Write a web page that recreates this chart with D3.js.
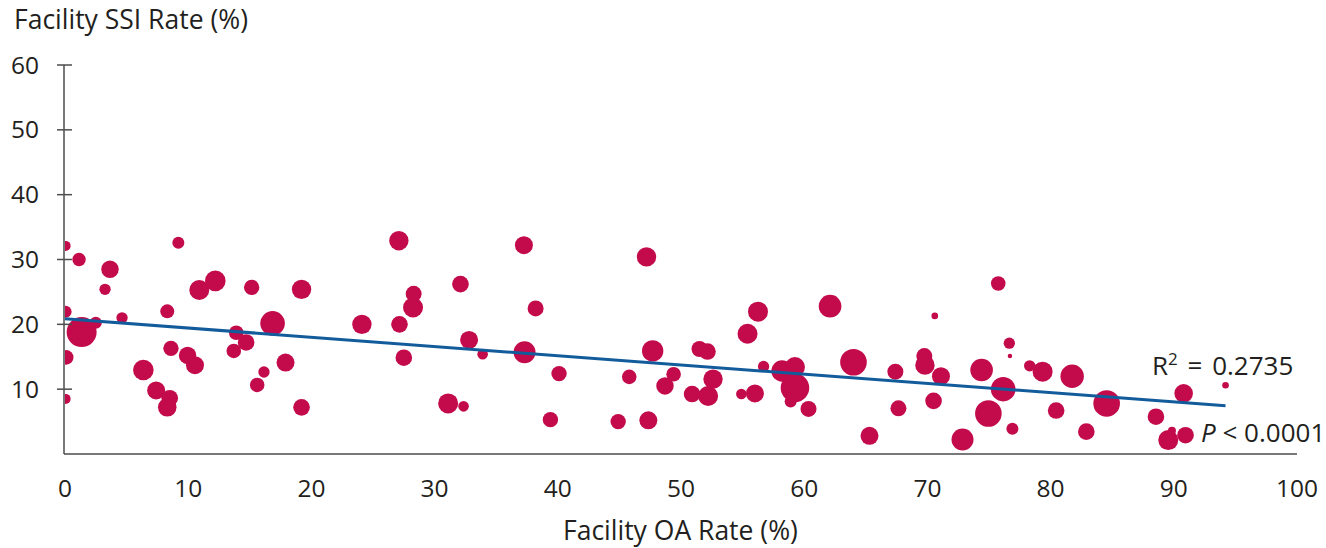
<!DOCTYPE html>
<html>
<head>
<meta charset="utf-8">
<script src="https://cdn.jsdelivr.net/npm/d3@7"></script>
<style>
  body { margin: 0; background: #fff; }
  text { font-family: "Open Sans", "Noto Sans", sans-serif; fill: #231f20; }
</style>
</head>
<body>
<div id="chart"></div>
<script>
// facility OA rate (%), SSI rate (%), facility volume (bubble size)
let oaRate = [0.05, 1.14, 3.65, 3.25, 0.05, 2.5, 1.35, 0.1, 0.05, 4.63,
  9.2, 8.3, 10.9, 12.2, 15.15, 19.2, 16.85, 13.9, 14.7, 13.7,
  8.6, 9.95, 10.55, 6.36, 7.4, 8.5, 8.3, 16.15, 15.6, 17.9,
  19.2, 27.1, 37.25, 47.2, 32.1, 28.3, 28.25, 38.2, 24.1, 27.15,
  32.8, 33.9, 37.3, 27.5, 40.1, 45.8, 47.7, 31.1, 32.35, 39.4,
  44.9, 47.35, 56.25, 62.1, 70.6, 55.4, 51.5, 52.15, 49.4, 48.7,
  52.6, 50.9, 52.2, 54.9, 56.0, 56.7, 58.2, 59.25, 59.25, 58.9,
  60.35, 64.0, 65.3, 67.4, 67.65, 69.75, 69.8, 71.1, 70.5, 72.85,
  74.4, 74.95, 75.75, 76.65, 76.7, 76.15, 76.9, 78.3, 79.35, 81.75,
  80.45, 82.9, 84.55, 88.55, 89.55, 90.95, 90.8, 94.2, 89.85];
let ssiRate = [32.1, 30.0, 28.5, 25.4, 21.95, 20.25, 18.8, 14.9, 8.5, 21.0,
  32.6, 22.0, 25.3, 26.7, 25.7, 25.4, 20.15, 18.7, 17.2, 15.9,
  16.3, 15.2, 13.7, 12.95, 9.8, 8.6, 7.2, 12.65, 10.65, 14.1,
  7.2, 32.9, 32.2, 30.4, 26.2, 24.7, 22.6, 22.45, 20.0, 20.0,
  17.6, 15.4, 15.7, 14.85, 12.4, 11.9, 15.9, 7.8, 7.35, 5.3,
  5.0, 5.2, 21.95, 22.8, 21.3, 18.55, 16.2, 15.8, 12.3, 10.5,
  11.55, 9.25, 8.95, 9.25, 9.35, 13.5, 12.8, 13.4, 10.2, 8.1,
  6.95, 14.15, 2.8, 12.7, 7.05, 15.1, 13.7, 12.0, 8.2, 2.25,
  12.95, 6.25, 26.3, 17.1, 15.1, 10.0, 3.9, 13.6, 12.7, 12.0,
  6.7, 3.45, 7.8, 5.75, 2.15, 2.9, 9.35, 10.6, 3.6];
let volume = [250, 450, 760, 320, 360, 360, 2250, 530, 250, 320,
  360, 490, 1000, 1060, 590, 940, 1510, 530, 690, 530,
  590, 760, 810, 1060, 810, 690, 860, 320, 530, 810,
  690, 940, 810, 940, 690, 640, 1000, 640, 940, 690,
  810, 280, 1210, 690, 590, 530, 1140, 1000, 280, 590,
  590, 810, 1000, 1280, 110, 1000, 640, 690, 530, 760,
  940, 690, 1000, 280, 810, 320, 1140, 1000, 2040, 360,
  640, 1770, 810, 640, 640, 640, 940, 810, 690, 1210,
  1280, 1770, 530, 320, 50, 1510, 360, 320, 1000, 1370,
  690, 690, 1770, 690, 1000, 690, 860, 110, 160];

// fitted line
let trendX = [0, 94.2];
let trendY = [20.85, 7.45];

let xTicks = [0, 10, 20, 30, 40, 50, 60, 70, 80, 90, 100];
let yTicks = [10, 20, 30, 40, 50, 60];

let data = oaRate.map((d, i) => ({ x: d, y: ssiRate[i], n: volume[i] }));

let width = 1326, height = 548;
let margin = { top: 65, bottom: 94, left: 65, right: 29 };

let svg = d3.select("#chart")
            .append("svg")
            .attr("width", width)
            .attr("height", height);

let xscale = d3.scaleLinear()
               .domain([0, 100])
               .range([margin.left, width - margin.right]);

let yscale = d3.scaleLinear()
               .domain([0, 60])
               .range([height - margin.bottom, margin.top]);

let rscale = d3.scaleSqrt()
               .domain([0, 2250])
               .range([0, 15]);

svg.append("clipPath")
   .attr("id", "plot-clip")
   .append("rect")
   .attr("x", xscale(0))
   .attr("y", 0)
   .attr("width", width - xscale(0))
   .attr("height", yscale(0));

svg.append("g")
   .attr("clip-path", "url(#plot-clip)")
   .selectAll("circle")
   .data(data)
   .enter()
   .append("circle")
   .attr("cx", d => xscale(d.x))
   .attr("cy", d => yscale(d.y))
   .attr("r", d => rscale(d.n))
   .attr("fill", "#c30b4b");

// y axis: ticks crossing the line, labels 10-60
let yaxis = svg.append("g")
               .attr("transform", `translate(${margin.left - 1}, 0)`);
yaxis.append("line")
     .attr("y1", yscale(60))
     .attr("y2", yscale(0))
     .attr("stroke", "#4d4d4d")
     .attr("stroke-width", 1.5);
yaxis.selectAll(".tick")
     .data(yTicks)
     .enter()
     .append("line")
     .attr("x1", -7)
     .attr("x2", 8)
     .attr("y1", d => yscale(d))
     .attr("y2", d => yscale(d))
     .attr("stroke", "#4d4d4d")
     .attr("stroke-width", 1.5);
yaxis.selectAll(".lab")
     .data(yTicks)
     .enter()
     .append("text")
     .attr("x", -25)
     .attr("y", d => yscale(d))
     .attr("dy", "0.35em")
     .attr("text-anchor", "end")
     .style("font-size", "24.5px")
     .text(d => d);

// x axis: plain line, labels below
svg.append("line")
   .attr("x1", margin.left - 1)
   .attr("x2", width - margin.right)
   .attr("y1", yscale(0))
   .attr("y2", yscale(0))
   .attr("stroke", "#4d4d4d")
   .attr("stroke-width", 1.5);
svg.append("g")
   .selectAll("text")
   .data(xTicks)
   .enter()
   .append("text")
   .attr("x", d => xscale(d))
   .attr("y", 497)
   .attr("text-anchor", "middle")
   .style("font-size", "24.5px")
   .text(d => d);

let line = d3.line()
             .x(d => xscale(d[0]))
             .y(d => yscale(d[1]));

svg.append("path")
   .datum(trendX.map((d, i) => [d, trendY[i]]))
   .attr("d", line)
   .attr("stroke", "#135c9c")
   .attr("stroke-width", 3)
   .attr("fill", "none");

svg.append("text")
   .attr("x", 14)
   .attr("y", 29)
   .style("font-size", "26.5px")
   .text("Facility SSI Rate (%)");

svg.append("text")
   .attr("x", 563)
   .attr("y", 540)
   .style("font-size", "26.5px")
   .text("Facility OA Rate (%)");

let r2 = svg.append("text")
            .attr("x", 1152)
            .attr("y", 375)
            .style("font-size", "26px");
r2.append("tspan").text("R");
r2.append("tspan").attr("dy", -10).style("font-size", "17px").text("2");
r2.append("tspan").attr("dy", 10).attr("word-spacing", "3px").text(" = 0.2735");

let p = svg.append("text")
           .attr("x", 1201)
           .attr("y", 442)
           .style("font-size", "26px");
p.append("tspan").style("font-style", "italic").text("P");
p.append("tspan").text(" < 0.0001");
</script>
</body>
</html>
